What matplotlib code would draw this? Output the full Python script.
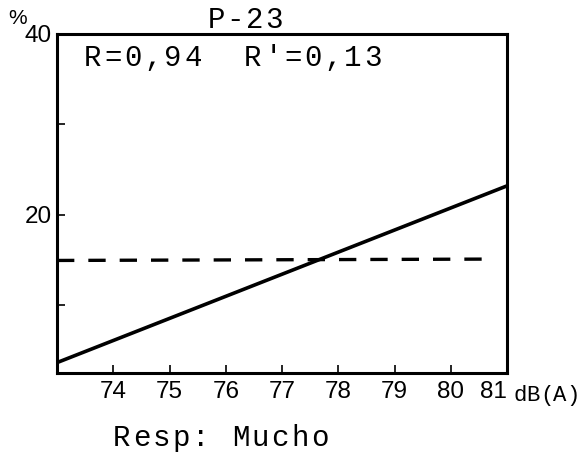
import numpy as np
import matplotlib
matplotlib.use("Agg")
import matplotlib.pyplot as plt

# data
db_a = [73, 81]
pct_fit = [3.65, 23.2]          # regression line
db_dash = [73, 80.65]
pct_dash = [14.95, 15.1]        # dashed reference level
xticks = [74, 75, 76, 77, 78, 79, 80, 81]
yticks = [20, 40]
yticks_minor = [10, 30]

W, H = 584, 457
fig = plt.figure(figsize=(W / 100, H / 100), dpi=100)
ax = fig.add_axes([57 / W, 1 - 373 / H, 450 / W, 339 / H])

ax.plot(db_a, pct_fit, color="black", lw=2.6, solid_capstyle="butt")
ax.plot(db_dash, pct_dash, color="black", lw=2.4, dashes=(5.2, 4.2),
        dash_capstyle="butt")

ax.set_xlim(73, 81)
ax.set_ylim(2.5, 40)
ax.set_xticks(xticks)
ax.set_yticks(yticks)
ax.set_yticks(yticks_minor, minor=True)
ax.tick_params(axis="x", direction="in", length=6, width=1.2, pad=6,
               labelsize=17.5)
ax.tick_params(axis="y", direction="in", length=6, width=1.2, pad=4,
               labelsize=17.5)
ax.tick_params(axis="y", which="minor", direction="in", length=6, width=1.2)
for lab in ax.get_xticklabels() + ax.get_yticklabels():
    lab.set_family("Liberation Sans")
# last x label sits left of its tick, as in the hand-made original
ax.get_xticklabels()[-1].set_horizontalalignment("right")
ax.get_xticklabels()[-1].set_x(81.05)

mono = "Liberation Mono"


def typewrite(x0, y, s, pitch, size):
    # fixed-pitch text, one glyph per cell, pixel coords from top-left
    for i, ch in enumerate(s):
        if ch == " ":
            continue
        fig.text((x0 + pitch * (i + 0.5)) / W, 1 - y / H, ch, family=mono,
                 fontsize=size, ha="center", va="baseline")


for sp in ax.spines.values():
    sp.set_linewidth(2.2)

typewrite(207, 28, "P-23", 19, 21)
typewrite(83, 66, "R=0,94  R'=0,13", 20, 21)
typewrite(112, 446, "Resp: Mucho", 19.8, 21)
typewrite(513, 401, "dB(A)", 13.4, 16)
fig.text(8 / W, 1 - 18 / H, "%", family="Liberation Sans", fontsize=15,
         ha="left", va="center")

fig.savefig("out.png", dpi=100)
